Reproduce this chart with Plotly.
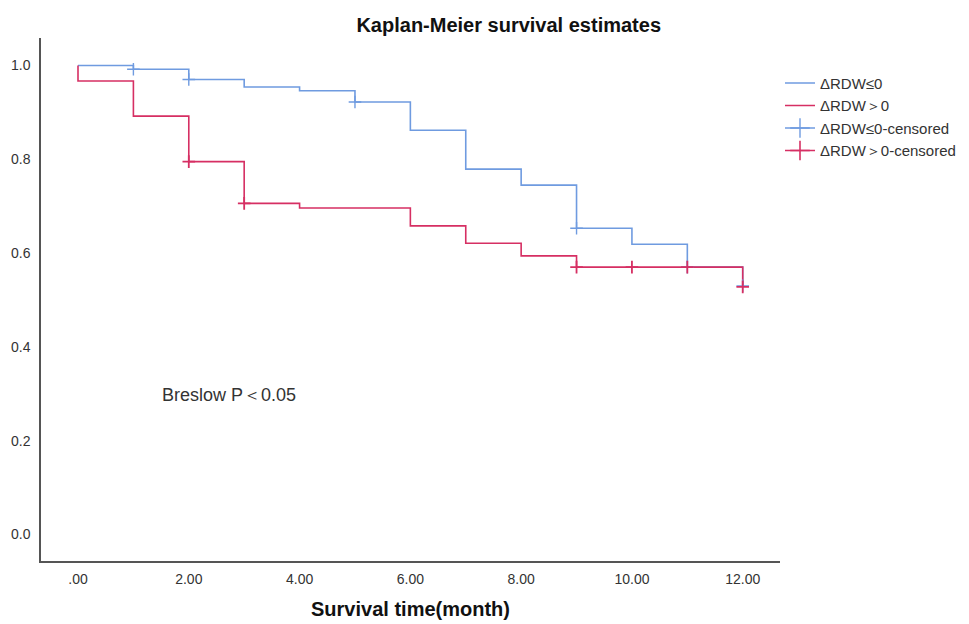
import plotly.graph_objects as go

# Data
blue_t = [0, 1, 2, 3, 4, 5, 6, 7, 8, 9, 10, 11, 12]
blue_s = [1.0, 0.992, 0.970, 0.954, 0.946, 0.922, 0.862, 0.779, 0.745, 0.653, 0.619, 0.570, 0.530]
red_t = [0, 0, 1, 2, 3, 4, 6, 7, 8, 9, 12]
red_s = [1.0, 0.967, 0.892, 0.795, 0.706, 0.696, 0.658, 0.621, 0.594, 0.570, 0.528]

blue_cens_t = [1, 2, 5, 9, 11, 12]
blue_cens_s = [0.992, 0.970, 0.922, 0.653, 0.570, 0.530]
red_cens_t = [2, 3, 9, 10, 11, 12]
red_cens_s = [0.795, 0.706, 0.570, 0.570, 0.570, 0.528]

x_tickvals = [0, 2, 4, 6, 8, 10, 12]
x_ticktext = [".00", "2.00", "4.00", "6.00", "8.00", "10.00", "12.00"]
y_tickvals = [0.0, 0.2, 0.4, 0.6, 0.8, 1.0]

names = ["ΔRDW≤0", "ΔRDW＞0", "ΔRDW≤0-censored", "ΔRDW＞0-censored"]

BLUE = "#6F9BE0"
RED = "#D62F63"
FONT = "Arial, Liberation Sans, sans-serif"

fig = go.Figure()
fig.add_trace(go.Scatter(x=blue_t, y=blue_s, mode="lines", line_shape="hv",
                         line=dict(color=BLUE, width=1.6), name=names[0]))
fig.add_trace(go.Scatter(x=red_t, y=red_s, mode="lines", line_shape="hv",
                         line=dict(color=RED, width=1.6), name=names[1]))
fig.add_trace(go.Scatter(x=blue_cens_t, y=blue_cens_s, mode="markers", showlegend=False,
                         marker=dict(symbol="cross-thin", size=9, line=dict(color=BLUE, width=1.4)),
                         name=names[2]))
fig.add_trace(go.Scatter(x=red_cens_t, y=red_cens_s, mode="markers", showlegend=False,
                         marker=dict(symbol="cross-thin", size=9, line=dict(color=RED, width=1.8)),
                         name=names[3]))
# legend entries for censored marks
fig.add_trace(go.Scatter(x=[None], y=[None], mode="lines+markers", name=names[2],
                         line=dict(color=BLUE, width=1.4),
                         marker=dict(symbol="cross-thin", size=14, line=dict(color=BLUE, width=1.4))))
fig.add_trace(go.Scatter(x=[None], y=[None], mode="lines+markers", name=names[3],
                         line=dict(color=RED, width=1.6),
                         marker=dict(symbol="cross-thin", size=14, line=dict(color=RED, width=1.6))))

fig.add_annotation(x=1.48, y=0.297, xref="x", yref="y", text="Breslow P＜0.05",
                   showarrow=False, xanchor="left", yanchor="middle",
                   font=dict(family=FONT, size=18, color="#333333"))

fig.update_layout(
    width=969, height=624,
    paper_bgcolor="white", plot_bgcolor="white",
    margin=dict(l=41, r=189, t=38, b=63, autoexpand=False),
    font=dict(family=FONT, size=14, color="#333333"),
    title=dict(text="<b>Kaplan-Meier survival estimates</b>", x=0.525, xref="container",
               xanchor="center", y=1 - 25 / 624, yref="container", yanchor="middle",
               font=dict(family=FONT, size=20, color="#111111")),
    legend=dict(x=1.0, xanchor="left", y=0.945, yanchor="top", bgcolor="rgba(0,0,0,0)",
                font=dict(family=FONT, size=15, color="#333333"), tracegroupgap=0,
                itemwidth=30),
    showlegend=True,
)
fig.update_xaxes(range=[-0.668, 12.673], tickvals=x_tickvals, ticktext=x_ticktext,
                 showgrid=False, zeroline=False, showline=True, linecolor="#555555", linewidth=1.5,
                 ticks="", ticklabelstandoff=4, automargin=False,
                 tickfont=dict(family=FONT, size=14, color="#333333"),
                 title=dict(text="<b>Survival time(month)</b>", standoff=16,
                            font=dict(family=FONT, size=20, color="#111111")))
fig.update_yaxes(range=[-0.0565, 1.0586], tickvals=y_tickvals, tickformat=".1f",
                 showgrid=False, zeroline=False, showline=True, linecolor="#555555", linewidth=1.5,
                 ticks="", ticklabelstandoff=6, automargin=False,
                 tickfont=dict(family=FONT, size=14, color="#333333"))

fig.write_html("out.html", config={"displayModeBar": False},
               post_script="document.body.style.margin='0';document.body.style.overflow='hidden';")
